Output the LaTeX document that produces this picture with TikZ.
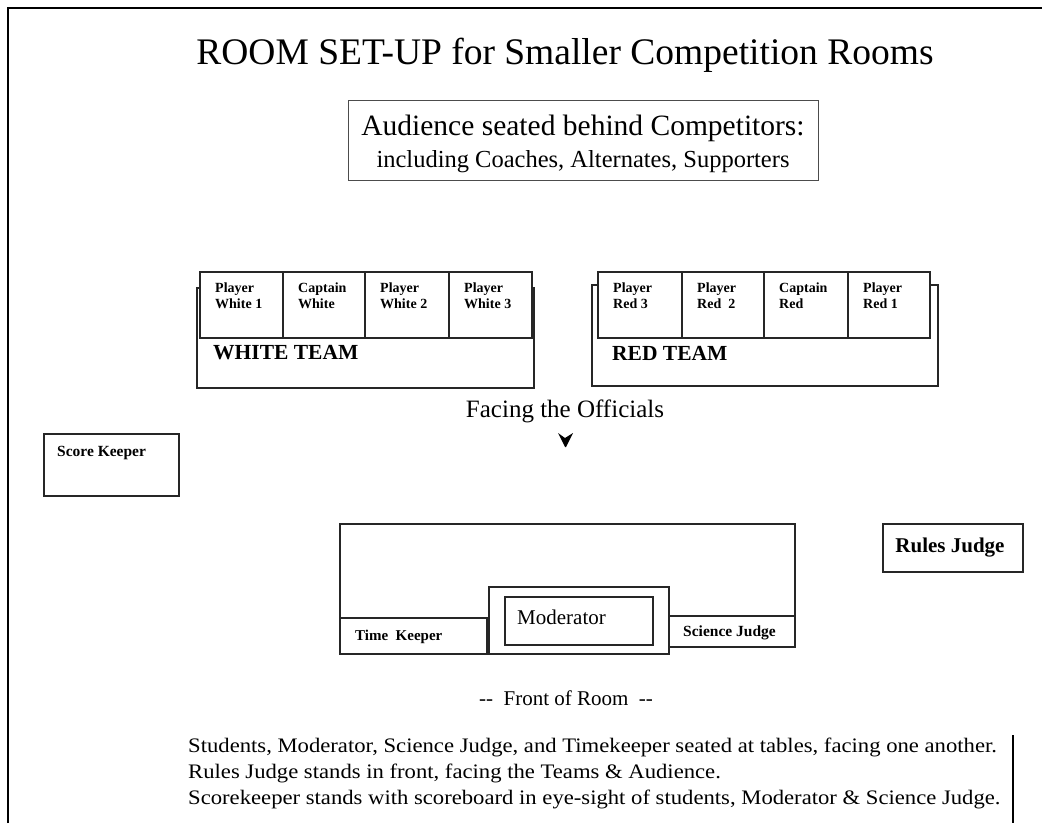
\documentclass[tikz,border=0pt]{standalone}
\usepackage{fontspec}
\setmainfont{Liberation Serif}
\newfontfamily\widefont[FakeStretch=1.1]{Liberation Serif}
\begin{document}
\begin{tikzpicture}[x=1pt,y=-1pt,
  box/.style={draw=black!85,line width=1.2pt},
  cellbox/.style={draw=black!85,fill=white,line width=1.1pt},
  small/.style={font=\fontsize{14}{16}\selectfont\bfseries,align=left,inner sep=0pt,anchor=north west},
  lbl/.style={inner sep=0pt}]
\useasboundingbox (0,0) rectangle (1042,823);
% frame
\draw[line width=2pt] (8,823) -- (8,8) -- (1042,8);
\draw[line width=1.5pt] (1013,735) -- (1013,823);
% title
\node[lbl,font=\fontsize{37.5}{40}\selectfont] (title) at (565,55) {ROOM SET-UP for Smaller Competition Rooms};
% audience
\draw[line width=0.9pt,draw=black!70] (348,100) rectangle (818,180);
\node[lbl,font=\fontsize{29.5}{32}\selectfont] (aud1) at (583,128) {Audience seated behind Competitors:};
\node[lbl,font=\fontsize{24.5}{26}\selectfont] (aud2) at (583,162) {including Coaches, Alternates, Supporters};
% white team
\draw[box] (197,288) rectangle (534,388);
\foreach \a/\b/\t [count=\i] in {200/283/{Player\\White 1},283/365/{Captain\\White},365/449/{Player\\White 2},449/532/{Player\\White 3}}{
  \draw[cellbox] (\a,272) rectangle (\b,338);
  \node[small] (w\i) at (\a+15,283) {\t};
}
\node[lbl,anchor=west,font=\fontsize{21.5}{23}\selectfont\bfseries] (white) at (213,353) {WHITE TEAM};
% red team
\draw[box] (592,285) rectangle (938,386);
\foreach \a/\b/\t [count=\i] in {598/682/{Player\\Red 3},682/764/{Player\\Red\ \ 2},764/848/{Captain\\Red},848/930/{Player\\Red 1}}{
  \draw[cellbox] (\a,272) rectangle (\b,338);
  \node[small] (r\i) at (\a+15,283) {\t};
}
\node[lbl,anchor=west,font=\fontsize{21.5}{23}\selectfont\bfseries] (red) at (612,353) {RED TEAM};
% facing
\node[lbl,font=\fontsize{25}{27}\selectfont] (facing) at (565,411) {Facing the Officials};
\fill (558,433) -- (565,438) -- (573,433) -- (566,447) -- (565,447) -- cycle;
% score keeper
\draw[box] (44,434) rectangle (179,496);
\node[small,font=\fontsize{15.5}{17}\selectfont\bfseries] (sk) at (57,446) {Score Keeper};
% rules judge
\draw[box] (883,524) rectangle (1023,572);
\node[lbl,font=\fontsize{21}{23}\selectfont\bfseries] (rj) at (950,548) {Rules Judge};
% officials table
\draw[box] (340,524) rectangle (795,618);
\draw[cellbox] (340,618) rectangle (487,654);
\node[lbl,anchor=west,font=\fontsize{15}{17}\selectfont\bfseries] (tk) at (355,637) {Time\ \ Keeper};
\draw[cellbox] (669,616) rectangle (795,647);
\node[lbl,anchor=west,font=\fontsize{15.5}{17}\selectfont\bfseries] (sj) at (683,633) {Science Judge};
\draw[cellbox] (489,587) rectangle (669,654);
\draw[box] (505,597) rectangle (653,645);
\node[lbl,anchor=west,font=\fontsize{21}{23}\selectfont] (mod) at (517,617) {Moderator};
% front
\node[lbl,font=\fontsize{21}{23}\selectfont] (front) at (566,698) {-{}-\ \ Front of Room\ \ -{}-};
% notes
\node[lbl,anchor=west,font=\widefont\fontsize{20.6}{23}\selectfont] (n1) at (188,747) {Students, Moderator, Science Judge, and Timekeeper seated at tables, facing one another.};
\node[lbl,anchor=west,font=\widefont\fontsize{20.6}{23}\selectfont] (n2) at (188,773) {Rules Judge stands in front, facing the Teams \& Audience.};
\node[lbl,anchor=west,font=\widefont\fontsize{20.6}{23}\selectfont] (n3) at (188,799) {Scorekeeper stands with scoreboard in eye-sight of students, Moderator \& Science Judge.};
\end{tikzpicture}
\end{document}
